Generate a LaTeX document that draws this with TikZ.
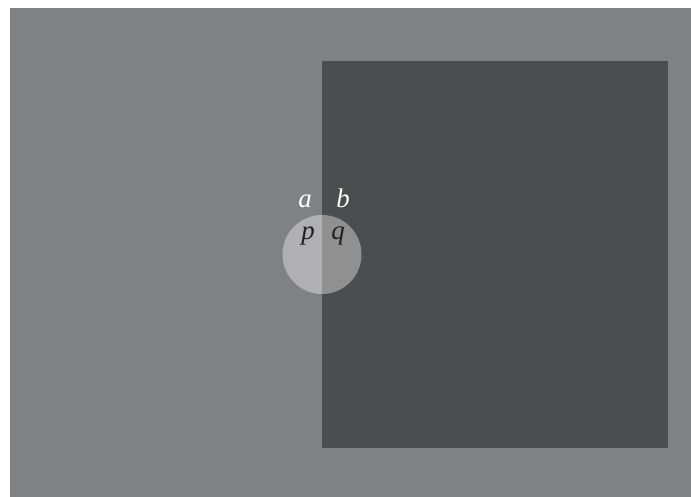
\documentclass[tikz,border=0pt]{standalone}
\usepackage{fontspec}
\setmainfont{Liberation Serif}
\usepackage{tikz}
\definecolor{outergray}{RGB}{128,129,133}
\definecolor{innergray}{RGB}{76,77,79}
\definecolor{letterdark}{RGB}{35,31,32}
\tikzset{
    lbl/.style = {anchor = base, inner sep = 0pt, font = \fontsize{27}{29}\selectfont\itshape}
}
\begin{document}
\begin{tikzpicture}[x=1bp, y=1bp]
            \useasboundingbox (0,0) rectangle (691,497);
            \fill[outergray] (10,0) rectangle (691,489);
            \fill[innergray] (322,49) rectangle (668,436);
            \filldraw[
                fill = white,
                fill opacity = 0.38,
                draw = none
            ]
            (322,242.5) circle (39.5);
            \node[lbl, text = white] (a) at (305,289) {a};
            \node[lbl, text = white] (b) at (343,289) {b};
            \node[lbl, text = letterdark] (p) at (308,257) {p};
            \node[lbl, text = letterdark] (q) at (338,257) {q};
        \end{tikzpicture}
\end{document}
